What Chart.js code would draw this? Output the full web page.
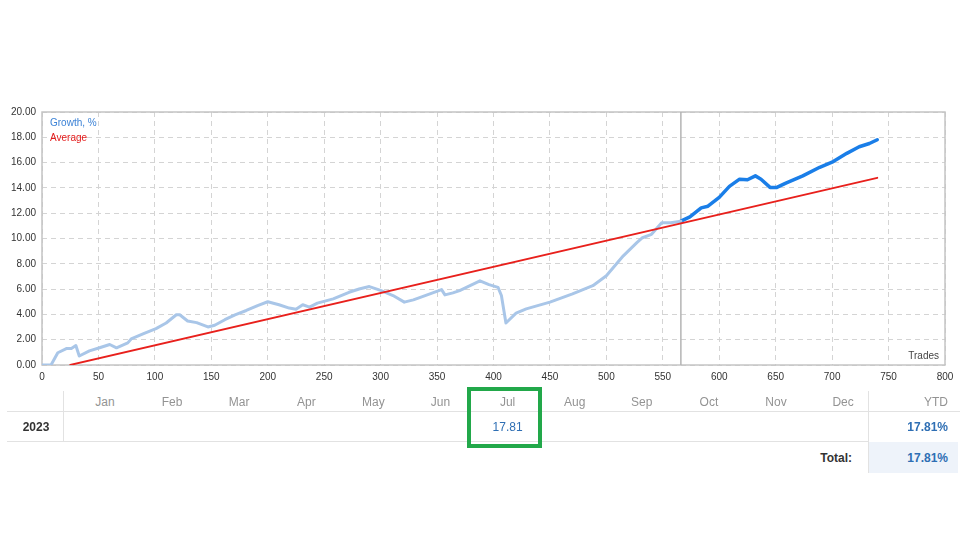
<!DOCTYPE html>
<html>
<head>
<meta charset="utf-8">
<script src="https://cdn.jsdelivr.net/npm/chart.js@4/dist/chart.umd.min.js"></script>
<style>
  html, body { margin: 0; padding: 0; background: #fff; }
  #wrap { position: relative; width: 960px; height: 543px; overflow: hidden; font-family: "Liberation Sans", Arial, sans-serif; }
  #box { position: absolute; left: 0; top: 100px; width: 960px; height: 290px; }
  .t { position: absolute; font-size: 12px; line-height: 14px; white-space: nowrap; }
  .hl { position: absolute; height: 1px; background: #e2e2e2; }
  .vl { position: absolute; width: 1px; background: #e2e2e2; }
</style>
</head>
<body>
<div id="wrap">
  <div id="box"><canvas id="growthChart"></canvas></div>
  <div id="table"></div>
</div>
<script>
// growth curve, first part (before the split line)
const tradesLight = [0, 8, 14, 22, 26, 30, 33, 42, 51, 60, 66, 76, 79, 90, 101, 110, 119, 122, 129, 137,
  147, 153, 162, 171, 181, 191, 200, 210, 219, 225, 231, 237, 244, 258, 272, 281, 290, 300, 311, 321,
  329, 337, 354, 357, 364, 370, 388, 396, 404, 407, 411, 420, 429, 450, 470, 488, 500, 515, 527, 532,
  540, 549, 557, 566];
const growthLight = [0, 0, 0.97, 1.31, 1.31, 1.54, 0.71, 1.12, 1.36, 1.62, 1.36, 1.75, 2.06, 2.48, 2.88, 3.32, 3.97, 3.97, 3.48, 3.35,
  3.01, 3.14, 3.58, 3.97, 4.31, 4.70, 5.00, 4.76, 4.50, 4.40, 4.76, 4.58, 4.89, 5.23, 5.75, 6.01, 6.20, 5.90, 5.49, 4.97,
  5.15, 5.41, 5.96, 5.54, 5.70, 5.88, 6.65, 6.35, 6.14, 5.49, 3.32, 4.10, 4.44, 4.97, 5.62, 6.27, 7.06, 8.63, 9.67, 10.06,
  10.33, 11.24, 11.24, 11.37];

// growth curve, second part
const tradesDark = [566, 574, 584, 590, 600, 609, 618, 625, 632, 637, 645, 651, 659, 674, 689, 701, 713, 724, 733, 740];
const growthDark = [11.37, 11.71, 12.42, 12.55, 13.25, 14.12, 14.69, 14.64, 14.95, 14.69, 14.04, 14.04, 14.38, 14.95, 15.63, 16.08, 16.73, 17.25, 17.51, 17.81];

// average line
const tradesAvg = [25, 740];
const growthAvg = [0, 14.8];

const splitTrade = 566;

// table
const months = ['Jan', 'Feb', 'Mar', 'Apr', 'May', 'Jun', 'Jul', 'Aug', 'Sep', 'Oct', 'Nov', 'Dec'];
const year = '2023';
const monthly = [null, null, null, null, null, null, 17.81, null, null, null, null, null];
const ytd = 17.81;
const total = 17.81;
const highlightMonth = 'Jul';

const toPoints = (xs, ys) => xs.map((x, i) => ({ x: x, y: ys[i] }));

const overlay = {
  id: 'overlay',
  beforeDatasetsDraw(chart) {
    const { ctx, chartArea: a, scales } = chart;
    ctx.save();
    ctx.strokeStyle = '#c4c4c4';
    ctx.lineWidth = 1.5;
    ctx.strokeRect(a.left, a.top, a.right - a.left, a.bottom - a.top);
    const sx = scales.x.getPixelForValue(splitTrade);
    ctx.strokeStyle = '#b4b4b4';
    ctx.beginPath();
    ctx.moveTo(sx, a.top);
    ctx.lineTo(sx, a.bottom);
    ctx.stroke();
    ctx.restore();
  },
  afterDraw(chart) {
    const { ctx, chartArea: a } = chart;
    ctx.save();
    ctx.font = '10px "Liberation Sans", Arial, sans-serif';
    ctx.textBaseline = 'middle';
    ctx.fillStyle = '#3b82d6';
    ctx.fillText('Growth, %', a.left + 8, a.top + 11);
    ctx.fillStyle = '#e31b1b';
    ctx.fillText('Average', a.left + 8, a.top + 26);
    ctx.fillStyle = '#444';
    ctx.textAlign = 'right';
    ctx.fillText('Trades', a.right - 6, a.bottom - 9);
    ctx.restore();
  }
};

new Chart(document.getElementById('growthChart'), {
  type: 'line',
  data: {
    datasets: [
      { data: toPoints(tradesAvg, growthAvg), borderColor: '#e8201c', borderWidth: 1.8 },
      { data: toPoints(tradesLight, growthLight), borderColor: '#a9c6e8', borderWidth: 3 },
      { data: toPoints(tradesDark, growthDark), borderColor: '#1a7ee8', borderWidth: 3.5 }
    ]
  },
  options: {
    responsive: true,
    maintainAspectRatio: false,
    animation: false,
    layout: { padding: { top: 10, right: 15, left: 0, bottom: 0 } },
    elements: { point: { radius: 0 }, line: { tension: 0, borderJoinStyle: 'round', borderCapStyle: 'round' } },
    plugins: { legend: { display: false }, tooltip: { enabled: false } },
    scales: {
      x: {
        type: 'linear', min: 0, max: 800,
        afterFit: s => { s.height = 25; },
        ticks: { stepSize: 50, padding: 6, color: '#333', font: { family: '"Liberation Sans", Arial, sans-serif', size: 10 }, maxRotation: 0 },
        grid: { color: '#d4d4d4', drawTicks: false },
        border: { display: false, dash: [5, 4] }
      },
      y: {
        min: 0, max: 20,
        afterFit: s => { s.width = 42; },
        ticks: { stepSize: 2, padding: 6, color: '#333', font: { family: '"Liberation Sans", Arial, sans-serif', size: 10 }, callback: v => v.toFixed(2) },
        grid: { color: '#d4d4d4', drawTicks: false },
        border: { display: false, dash: [5, 4] }
      }
    }
  },
  plugins: [overlay]
});

// monthly table below the chart
const table = document.getElementById('table');
function add(cls, css, text) {
  const el = document.createElement('div');
  el.className = cls;
  el.style.cssText = css;
  if (text !== undefined) el.textContent = text;
  table.appendChild(el);
  return el;
}
add('', 'position:absolute;left:869px;top:442px;width:89px;height:31px;background:#eef3fa;');
add('hl', 'left:7px;top:411px;width:953px;');
add('hl', 'left:7px;top:441px;width:861px;');
add('vl', 'left:63px;top:391px;height:50px;');
add('vl', 'left:868px;top:391px;height:82px;');
months.forEach((m, i) => {
  const cx = 105 + 67.1 * i;
  add('t', `left:${cx - 30}px;width:60px;text-align:center;top:395px;color:#939393;`, m);
  if (monthly[i] !== null) {
    add('t', `left:${cx - 30}px;width:60px;text-align:center;top:420px;color:#2f6fb4;`, monthly[i].toFixed(2));
  }
  if (m === highlightMonth) {
    add('', `position:absolute;left:${cx - 41}px;top:387px;width:67px;height:53px;border:4px solid #22a84a;`);
  }
});
add('t', 'left:8px;width:56px;text-align:center;top:420px;color:#333;font-weight:bold;', year);
add('t', 'left:880px;width:68px;text-align:right;top:395px;color:#939393;', 'YTD');
add('t', 'left:880px;width:68px;text-align:right;top:420px;color:#2f6fb4;font-weight:bold;', ytd.toFixed(2) + '%');
add('t', 'left:780px;width:72px;text-align:right;top:451px;color:#333;font-weight:bold;', 'Total:');
add('t', 'left:880px;width:68px;text-align:right;top:451px;color:#2f6fb4;font-weight:bold;', total.toFixed(2) + '%');
</script>
</body>
</html>
